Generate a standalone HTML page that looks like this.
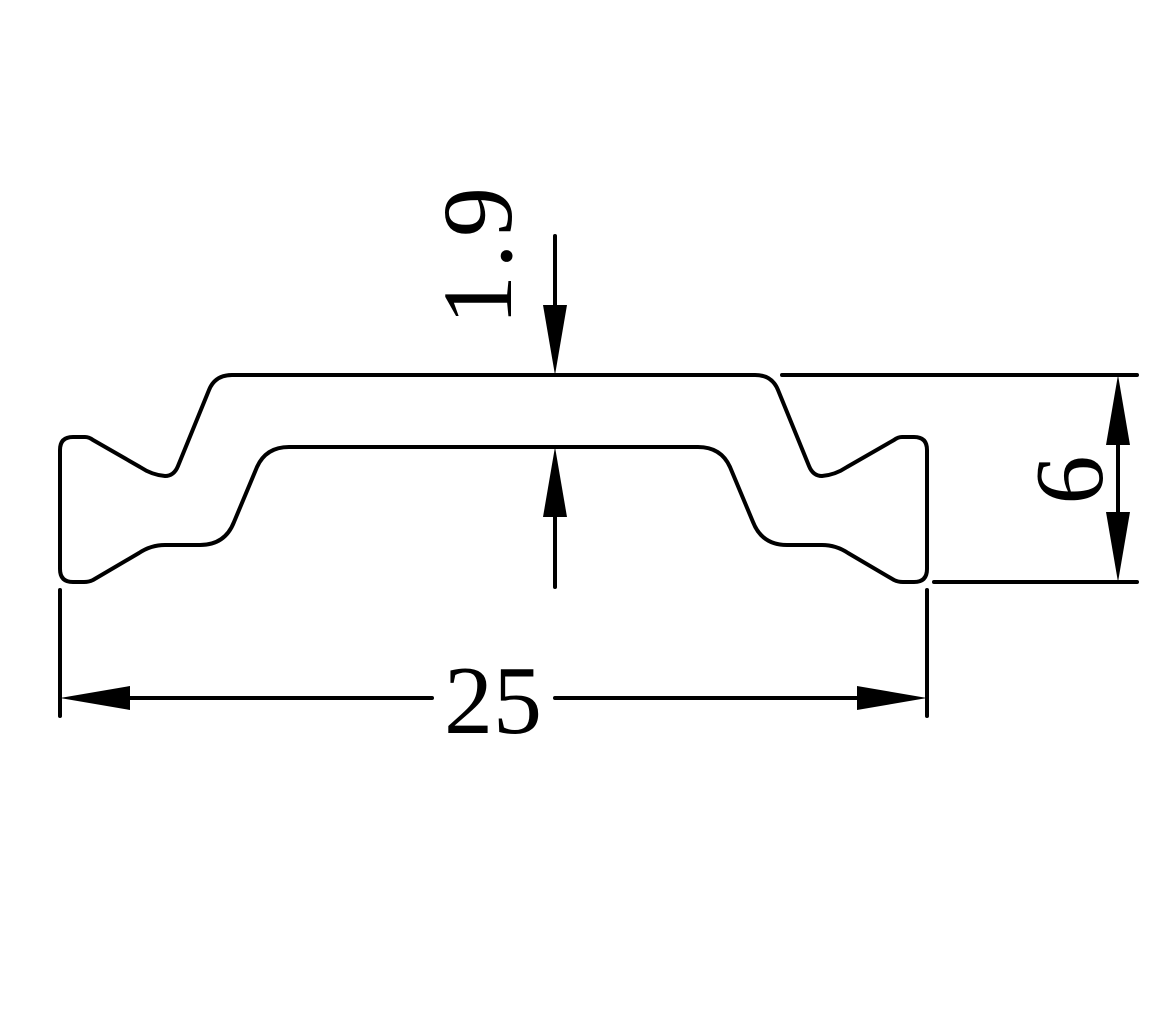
<!DOCTYPE html>
<html><head><meta charset="utf-8"><style>html,body{margin:0;padding:0;background:#fff}svg{display:block}</style></head>
<body>
<svg width="1176" height="1033" viewBox="0 0 1176 1033" xmlns="http://www.w3.org/2000/svg">
<g fill="none" stroke="#000" stroke-width="4" stroke-linecap="round" stroke-linejoin="round">
<path d="M60,450 Q60,437 73,437 L85,437 Q89,437 93,440 L140,467 Q152,475 165,476 Q174,476 178,466 L209,390 Q215,375 232,375 L755,375 Q772,375 778,390 L809,466 Q813,476 822,476 Q835,475 847,467 L894,440 Q898,437 902,437 L914,437 Q927,437 927,450 L927,569 Q927,582 914,582 L903,582 Q898,582 894,580 L848,553 Q836,545 822,545 L787,545 Q762,545 753,522 L730,467 Q721,447 698,447 L289,447 Q266,447 257,467 L234,522 Q225,545 200,545 L165,545 Q151,545 139,553 L93,580 Q89,582 84,582 L73,582 Q60,582 60,569 Z"/>
<line x1="555" y1="236" x2="555" y2="310"/>
<line x1="555" y1="515" x2="555" y2="587"/>
<line x1="782" y1="375" x2="1137" y2="375"/>
<line x1="934" y1="582" x2="1137" y2="582"/>
<line x1="1118" y1="440" x2="1118" y2="518"/>
<line x1="60" y1="590" x2="60" y2="716"/>
<line x1="927" y1="590" x2="927" y2="716"/>
<line x1="125" y1="698" x2="432" y2="698"/>
<line x1="555" y1="698" x2="862" y2="698"/>
</g>
<g fill="#000">
<polygon points="555,375 543,305 567,305"/>
<polygon points="555,447 543,517 567,517"/>
<polygon points="1118,375 1106,445 1130,445"/>
<polygon points="1118,582 1106,512 1130,512"/>
<polygon points="60,698 130,686 130,710"/>
<polygon points="927,698 857,686 857,710"/>
</g>
<g font-family="'Liberation Serif', serif" fill="#000">
<text x="0" y="0" font-size="100" textLength="138" lengthAdjust="spacing" transform="translate(511,325) rotate(-90)">1.9</text>
<text x="0" y="0" font-size="98" text-anchor="middle" transform="translate(1102,480) rotate(-90)">6</text>
<text x="493" y="733" font-size="98" text-anchor="middle">25</text>
</g>
</svg>
</body></html>
